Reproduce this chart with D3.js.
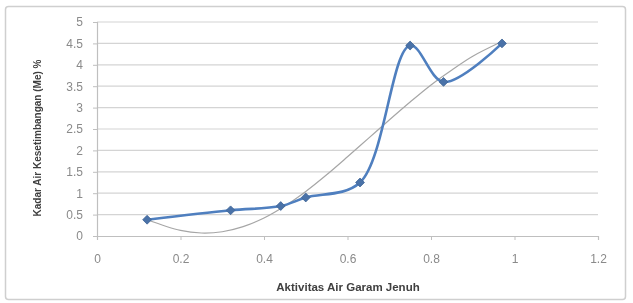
<!DOCTYPE html>
<html>
<head>
<meta charset="utf-8">
<script src="https://cdn.jsdelivr.net/npm/d3@7"></script>
<style>
  body { margin: 0; background: #fff; }
  svg { display: block; }
</style>
</head>
<body>
<div id="chart"></div>
<script>
// measured points (aktivitas air, kadar air %)
var aw = [0.12, 0.32, 0.44, 0.50, 0.63, 0.75, 0.83, 0.97];
var me = [0.38, 0.60, 0.70, 0.90, 1.25, 4.45, 3.60, 4.50];

// grey trend curve
var trendX = [0.12, 0.2, 0.25, 0.3, 0.35, 0.4, 0.45, 0.5, 0.55, 0.6, 0.65, 0.7, 0.75, 0.8, 0.85, 0.9, 0.965];
var trendY = [0.38, 0.13, 0.07, 0.1, 0.22, 0.42, 0.7, 1.04, 1.43, 1.85, 2.28, 2.71, 3.13, 3.53, 3.88, 4.2, 4.52];

var xTicks = [0, 0.2, 0.4, 0.6, 0.8, 1, 1.2];
var yTicks = [0, 0.5, 1, 1.5, 2, 2.5, 3, 3.5, 4, 4.5, 5];

var svgWidth = 633;
var svgHeight = 303;

var margin = { top: 22, right: 35, bottom: 67, left: 97 };
var chartWidth = 598 - margin.left;
var chartHeight = 236 - margin.top;

var svg = d3.select("#chart")
  .append("svg")
  .attr("width", svgWidth)
  .attr("height", svgHeight)
  .style("filter", "blur(0.4px)");

// outer frame
svg.append("rect")
  .attr("x", 5.5)
  .attr("y", 6.5)
  .attr("width", 620)
  .attr("height", 293)
  .attr("rx", 3)
  .attr("fill", "#fff")
  .attr("stroke", "#cfcfcf")
  .attr("stroke-width", 1.5);

var g = svg.append("g")
  .attr("transform", `translate(${margin.left}, ${margin.top})`);

var x = d3.scaleLinear().domain([0, 1.2]).range([0, chartWidth]);
var y = d3.scaleLinear().domain([0, 5]).range([chartHeight, 0]);

// horizontal gridlines
g.append("g")
  .selectAll("line")
  .data(yTicks.slice(1))
  .enter()
  .append("line")
  .attr("x1", 0)
  .attr("x2", chartWidth)
  .attr("y1", d => y(d))
  .attr("y2", d => y(d))
  .attr("stroke", "#d4d4d4")
  .attr("stroke-width", 1.2);

var leftAxis = d3.axisLeft(y).tickValues(yTicks).tickSize(4).tickPadding(10).tickFormat(d3.format("~g"));
var bottomAxis = d3.axisBottom(x).tickValues(xTicks).tickSize(4).tickPadding(14).tickFormat(d3.format("~g"));

var yAxisG = g.append("g").call(leftAxis);
var xAxisG = g.append("g")
  .attr("transform", `translate(0, ${chartHeight})`)
  .call(bottomAxis);

[yAxisG, xAxisG].forEach(function(a) {
  a.select(".domain").attr("stroke", "#bfbfbf").attr("stroke-width", 1.2);
  a.selectAll(".tick line").attr("stroke", "#bfbfbf");
  a.selectAll(".tick text")
    .attr("fill", "#8a8a8a")
    .style("font-family", "Liberation Sans, Arial, sans-serif")
    .style("font-size", "12px");
});

// trend line
var trend = trendX.map((d, i) => [d, trendY[i]]);
g.append("path")
  .datum(trend)
  .attr("fill", "none")
  .attr("stroke", "#a6a6a6")
  .attr("stroke-width", 1.2)
  .attr("d", d3.line()
    .x(d => x(d[0]))
    .y(d => y(d[1]))
    .curve(d3.curveCatmullRom.alpha(0.5)));

// data line, smoothed
var pts = aw.map((d, i) => [d, me[i]]);
g.append("path")
  .datum(pts)
  .attr("fill", "none")
  .attr("stroke", "#4f7fbf")
  .attr("stroke-width", 2.6)
  .attr("d", d3.line()
    .x(d => x(d[0]))
    .y(d => y(d[1]))
    .curve(d3.curveCatmullRom.alpha(0.5)));

g.selectAll(".marker")
  .data(pts)
  .enter()
  .append("path")
  .attr("class", "marker")
  .attr("transform", d => `translate(${x(d[0])}, ${y(d[1])})`)
  .attr("d", d3.symbol().type(d3.symbolDiamond2).size(50))
  .attr("fill", "#4a72a8")
  .attr("stroke", "#3f6496")
  .attr("stroke-width", 0.8);

// axis titles
svg.append("text")
  .attr("x", 348)
  .attr("y", 291)
  .attr("text-anchor", "middle")
  .style("font-family", "Liberation Sans, Arial, sans-serif")
  .style("font-weight", "bold")
  .style("font-size", "11.5px")
  .attr("fill", "#404040")
  .text("Aktivitas Air Garam Jenuh");

svg.append("text")
  .attr("transform", "translate(41, 138) rotate(-90)")
  .attr("text-anchor", "middle")
  .style("font-family", "Liberation Sans, Arial, sans-serif")
  .style("font-weight", "bold")
  .style("font-size", "10px")
  .attr("fill", "#404040")
  .text("Kadar Air Kesetimbangan (Me) %");
</script>
</body>
</html>
